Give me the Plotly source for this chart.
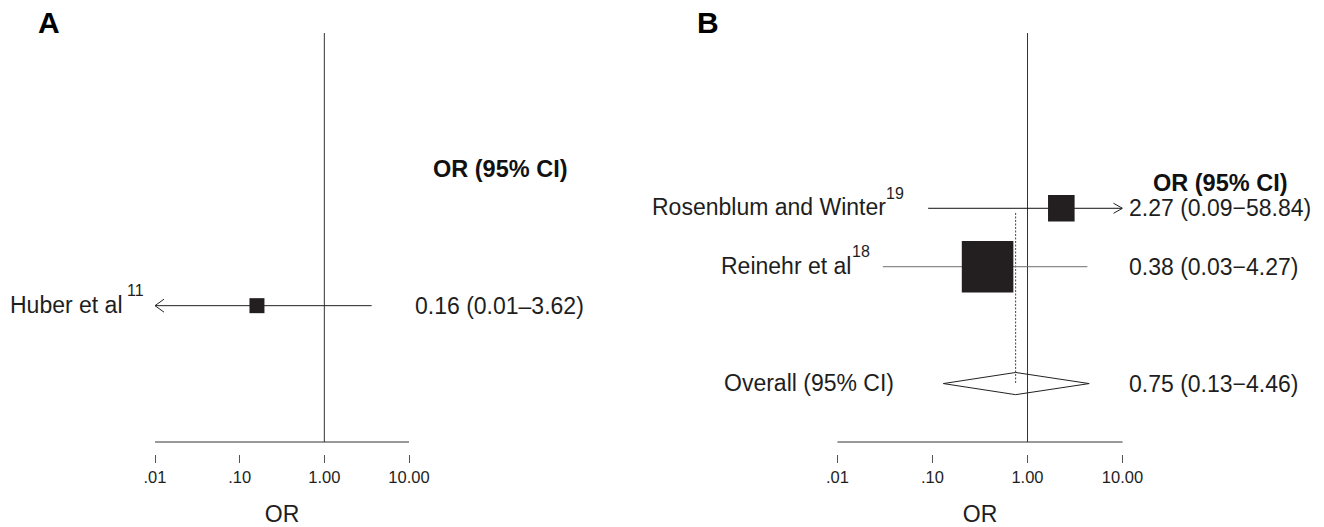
import math
import plotly.graph_objects as go

# ---- data -------------------------------------------------------------
# Panel A
a_study = ["Huber et al"]
a_ref = ["11"]
a_or = [0.16]
a_lo = [0.01]
a_hi = [3.62]
a_row = [2]

# Panel B
b_study = ["Rosenblum and Winter", "Reinehr et al"]
b_ref = ["19", "18"]
b_or = [2.27, 0.38]
b_lo = [0.09, 0.03]
b_hi = [58.84, 4.27]
b_row = [3, 4]
b_weight = [21, 79]          # study weight, %

overall_label = "Overall (95% CI)"
overall_or = 0.75
overall_lo = 0.13
overall_hi = 4.46
overall_row = 6

tick_vals = [0.01, 0.1, 1, 10]
tick_text = [".01", ".10", "1.00", "10.00"]
x_min, x_max = 0.01, 10.0

# ---- layout helpers ---------------------------------------------------
W, H = 1324, 527
FONT = "Liberation Sans, Arial, Helvetica, sans-serif"
INK = "#1e1e1e"


def px(x):
    return x / W


def py(y):
    return 1 - y / H


def clip(v):
    return min(max(v, x_min), x_max)


fig = go.Figure()

# null line OR = 1
fig.add_trace(go.Scatter(x=[1, 1], y=[0, 3], mode="lines",
                         line=dict(color="#333333", width=1),
                         xaxis="x", yaxis="y", hoverinfo="skip"))
fig.add_trace(go.Scatter(x=[1, 1], y=[0, 7], mode="lines",
                         line=dict(color="#333333", width=1),
                         xaxis="x2", yaxis="y2", hoverinfo="skip"))

# panel A: CI lines and boxes
for o, lo, hi, r in zip(a_or, a_lo, a_hi, a_row):
    fig.add_trace(go.Scatter(x=[clip(lo), clip(hi)], y=[r, r], mode="lines",
                             line=dict(color="#222222", width=1),
                             xaxis="x", yaxis="y", hoverinfo="skip"))
fig.add_trace(go.Scatter(x=a_or, y=a_row, mode="markers",
                         marker=dict(symbol="square", size=15, color="#231f20",
                                     opacity=1, line=dict(width=0)),
                         xaxis="x", yaxis="y", hoverinfo="skip"))

# panel B: pooled estimate reference (dashed)
fig.add_trace(go.Scatter(x=[overall_or, overall_or], y=[b_row[0] + 0.08, overall_row],
                         mode="lines", line=dict(color="#444444", width=1, dash="2px,1.5px"),
                         xaxis="x2", yaxis="y2", hoverinfo="skip"))

# panel B: CI lines and boxes
b_line_colors = ["#111111", "#6e6e6e"]
for o, lo, hi, r, c in zip(b_or, b_lo, b_hi, b_row, b_line_colors):
    fig.add_trace(go.Scatter(x=[clip(lo), clip(hi)], y=[r, r], mode="lines",
                             line=dict(color=c, width=1),
                             xaxis="x2", yaxis="y2", hoverinfo="skip"))
fig.add_trace(go.Scatter(x=b_or, y=b_row, mode="markers",
                         marker=dict(symbol="square",
                                     size=[5.8 * math.sqrt(w) for w in b_weight],
                                     color="#231f20", opacity=1, line=dict(width=0)),
                         xaxis="x2", yaxis="y2", hoverinfo="skip"))

# panel B: pooled diamond
dh = 0.19
fig.add_trace(go.Scatter(
    x=[overall_lo, overall_or, overall_hi, overall_or, overall_lo],
    y=[overall_row, overall_row - dh, overall_row, overall_row + dh, overall_row],
    mode="lines", fill="toself", fillcolor="rgba(255,255,255,0)",
    line=dict(color="#222222", width=1),
    xaxis="x2", yaxis="y2", hoverinfo="skip"))

annotations = []
shapes = []
txt = dict(family=FONT, size=23, color=INK)
sup = dict(family=FONT, size=16, color=INK)


# open chevrons where an interval reaches past the axis limits
def add_arrows(los, his, rows, xr, yr):
    for lo, hi, r in zip(los, his, rows):
        if lo <= x_min:
            shapes.append(dict(type="path", xref=xr, yref=yr, xsizemode="pixel",
                               ysizemode="pixel", xanchor=x_min, yanchor=r,
                               path="M9,6.5 L0,0 L9,-6.5",
                               line=dict(color="#222222", width=1)))
        if hi >= x_max:
            shapes.append(dict(type="path", xref=xr, yref=yr, xsizemode="pixel",
                               ysizemode="pixel", xanchor=x_max, yanchor=r,
                               path="M-9,5 L0,0 L-9,-5",
                               line=dict(color="#222222", width=1)))


add_arrows(a_lo, a_hi, a_row, "x", "y")
add_arrows(b_lo, b_hi, b_row, "x2", "y2")


# study labels with reference superscripts
def add_name(name, ref, row, yref, right, sup_left):
    annotations.append(dict(x=px(right), y=row, xref="paper", yref=yref,
                            xanchor="right", yanchor="middle", yshift=1, text=name,
                            showarrow=False, font=txt))
    annotations.append(dict(x=px(sup_left), y=row, xref="paper", yref=yref,
                            xanchor="left", yanchor="middle", yshift=15, text=ref,
                            showarrow=False, font=sup))


for s, ref, r, (xr, xs) in zip(a_study, a_ref, a_row, [(125, 125)]):
    add_name(s, ref, r, "y", xr, xs)
for s, ref, r, (xr, xs) in zip(b_study, b_ref, b_row, [(888, 884), (853, 850)]):
    add_name(s, ref, r, "y2", xr, xs)
annotations.append(dict(x=px(896), y=overall_row, xref="paper", yref="y2",
                        xanchor="right", yanchor="middle", yshift=1, text=overall_label,
                        showarrow=False, font=txt))

# OR (95% CI) column
for o, lo, hi, r in zip(a_or, a_lo, a_hi, a_row):
    annotations.append(dict(x=px(413), y=r, xref="paper", yref="y", xanchor="left",
                            yanchor="middle", text=f"{o:.2f} ({lo:.2f}\u2013{hi:.2f})",
                            showarrow=False, font=txt))
for o, lo, hi, r in list(zip(b_or, b_lo, b_hi, b_row)) + [
        (overall_or, overall_lo, overall_hi, overall_row)]:
    annotations.append(dict(x=px(1127), y=r, xref="paper", yref="y2", xanchor="left",
                            yanchor="middle", text=f"{o:.2f} ({lo:.2f}\u2212{hi:.2f})",
                            showarrow=False, font=txt))

hdr = dict(family=FONT, size=23.5, color="#111111")
annotations.append(dict(x=px(500), y=1, xref="paper", yref="y", xanchor="center",
                        yanchor="middle", text="<b>OR (95% CI)</b>",
                        showarrow=False, font=hdr))
annotations.append(dict(x=px(1220), y=2.64, xref="paper", yref="y2", xanchor="center",
                        yanchor="middle", yshift=4, text="<b>OR (95% CI)</b>",
                        showarrow=False, font=hdr))

# panel letters
pan = dict(family=FONT, size=30, color="#000000")
annotations.append(dict(x=px(49), y=py(22), xref="paper", yref="paper", xanchor="center",
                        yanchor="middle", text="<b>A</b>", showarrow=False, font=pan))
annotations.append(dict(x=px(708), y=py(22), xref="paper", yref="paper", xanchor="center",
                        yanchor="middle", text="<b>B</b>", showarrow=False, font=pan))

# baseline under each forest
shapes += [
    dict(type="line", xref="x domain", yref="y domain", x0=0, x1=1, y0=0, y1=0,
         line=dict(color="#333333", width=1)),
    dict(type="line", xref="x2 domain", yref="y2 domain", x0=0, x1=1, y0=0, y1=0,
         line=dict(color="#333333", width=1)),
]

xaxis_common = dict(type="log", range=[math.log10(x_min), math.log10(x_max)],
                    anchor="free", position=py(454), tickmode="array",
                    tickvals=tick_vals, ticktext=tick_text, ticks="outside",
                    ticklen=8, tickwidth=1, tickcolor="#555555",
                    tickfont=dict(family=FONT, size=16.5, color=INK),
                    showline=False, showgrid=False, zeroline=False,
                    title=dict(text="OR", font=dict(family=FONT, size=23, color=INK),
                               standoff=29),
                    fixedrange=True)
yaxis_common = dict(visible=False, domain=[py(442), py(33)], showgrid=False,
                    zeroline=False, fixedrange=True)

fig.update_layout(
    width=W, height=H, margin=dict(l=0, r=0, t=0, b=0, autoexpand=False),
    paper_bgcolor="white", plot_bgcolor="white", showlegend=False,
    xaxis=dict(domain=[px(155), px(409)], **xaxis_common),
    xaxis2=dict(domain=[px(837.5), px(1122.5)], **xaxis_common),
    yaxis=dict(range=[3, 0], anchor="x", **yaxis_common),
    yaxis2=dict(range=[7, 0], anchor="x2", **yaxis_common),
    annotations=annotations, shapes=shapes,
)

fig.write_html("out.html")
